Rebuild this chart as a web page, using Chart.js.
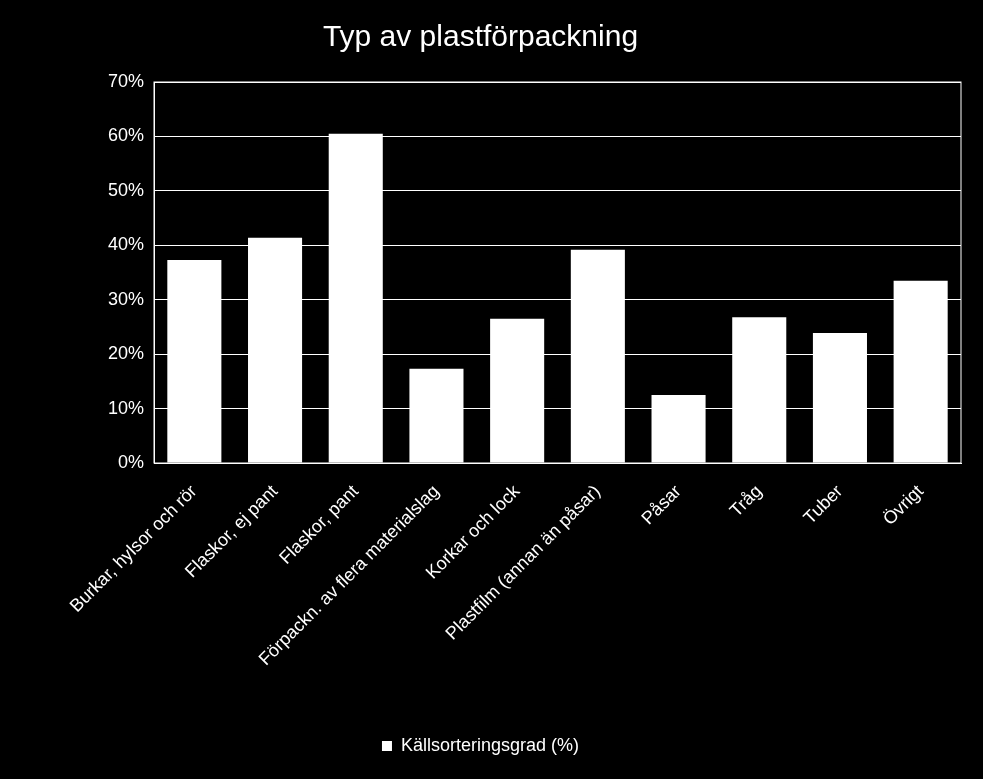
<!DOCTYPE html>
<html><head><style>html,body{margin:0;background:#000;}#w{width:983px;height:779px;}</style>
<script src="https://cdn.jsdelivr.net/npm/chart.js@4"></script></head>
<body><div id="w"><canvas id="c"></canvas></div>
<script>
const categories=["Burkar, hylsor och rör","Flaskor, ej pant","Flaskor, pant","Förpackn. av flera materialslag","Korkar och lock","Plastfilm (annan än påsar)","Påsar","Tråg","Tuber","Övrigt"];
const values=[37.3,41.4,60.5,17.3,26.5,39.2,12.5,26.8,23.9,33.5];
const seriesName="Källsorteringsgrad (%)";
const titleText="Typ av plastförpackning";
Chart.defaults.font.family="'Liberation Sans', Arial, sans-serif";
Chart.defaults.color="#fff";
new Chart(document.getElementById('c'),{type:'bar',
data:{labels:categories,datasets:[{label:seriesName,data:values,backgroundColor:'#fff',categoryPercentage:1,barPercentage:0.67}]},
options:{responsive:true,maintainAspectRatio:false,animation:false,
layout:{padding:{left:0,right:22,top:14,bottom:14}},
plugins:{title:{display:true,text:titleText,font:{size:30,weight:'normal'},color:'#fff',padding:{top:6,bottom:26}},
legend:{position:'bottom',labels:{boxWidth:10,boxHeight:10,font:{size:18},color:'#fff',padding:12}},tooltip:{enabled:false}},
scales:{x:{grid:{display:false},border:{color:'#fff'},afterFit(s){s.height=262;},ticks:{maxRotation:45,minRotation:45,font:{size:18},color:'#fff',autoSkip:false,padding:10}},
y:{min:0,max:70,afterFit(s){s.width=154;},ticks:{stepSize:10,callback:v=>v+'%',font:{size:18},color:'#fff',padding:10},grid:{color:'#fff',drawTicks:false},border:{color:'#fff'}}}},
plugins:[{id:'frame',afterDraw(ch){const a=ch.chartArea,c=ch.ctx;c.save();c.strokeStyle='#fff';c.lineWidth=1;c.strokeRect(a.left,a.top,a.right-a.left,a.bottom-a.top);c.restore();}}]
});
</script></body></html>
